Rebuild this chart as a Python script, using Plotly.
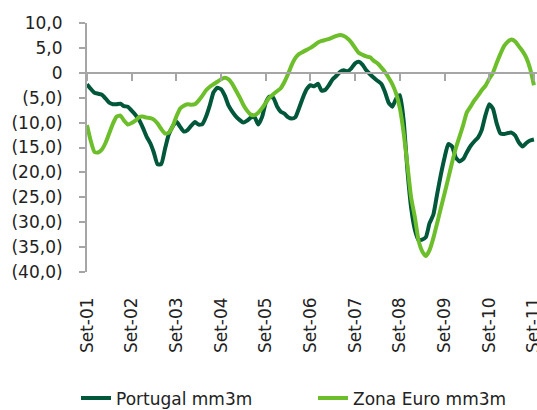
import pandas as pd
import plotly.graph_objects as go

# Monthly data, Sep-2001 .. Sep-2011
months = pd.date_range("2001-09-01", "2011-09-01", freq="MS")

portugal = [
    -2.3, -3.2, -4.0, -4.2, -4.4, -5.2, -6.0, -6.3, -6.3, -6.2, -6.7, -6.8,
    -7.6, -8.4, -9.5, -11.0, -12.8, -14.2, -16.0, -18.4, -18.3, -15.2, -12.4, -10.8,
    -9.8, -10.8, -11.8, -11.5, -10.6, -9.9, -10.4, -10.3, -8.8, -6.5, -3.9, -3.0,
    -3.3, -4.6, -6.6, -7.8, -8.8, -9.5, -10.0, -9.6, -9.0, -8.9, -10.4, -8.9,
    -6.0, -4.8, -5.0, -6.7, -7.8, -8.2, -8.9, -9.2, -8.9, -7.0, -5.0, -3.3,
    -2.5, -2.7, -2.2, -3.6, -3.4, -2.4, -1.3, -0.6, 0.2, 0.5, 0.3, 0.9,
    1.9, 2.2, 1.6, 0.5, -0.3, -1.0, -1.6, -2.2, -3.8, -6.0, -6.8, -5.2,
    -4.5, -9.5, -19.5, -27.0, -31.5, -33.6, -33.5, -33.0, -30.2, -28.5, -24.5, -20.5,
    -17.0, -14.3, -14.8, -17.0, -17.8, -17.3, -16.0, -14.7, -13.8, -13.0, -11.5, -8.5,
    -6.3, -7.2, -10.2, -12.2, -12.3, -12.1, -12.0, -12.6, -14.0, -14.8, -14.1, -13.6,
    -13.4,
]

zona_euro = [
    -10.5, -13.6, -15.9, -16.0, -15.4, -14.0, -12.2, -10.2, -8.8, -8.6, -9.6, -10.4,
    -10.1, -9.6, -8.9, -8.8, -9.0, -9.1, -9.4, -10.2, -11.3, -12.2, -12.0, -10.8,
    -8.8, -7.2, -6.6, -6.3, -6.4, -6.3, -5.6, -4.6, -3.5, -2.8, -2.3, -1.8,
    -1.3, -1.0, -1.3, -2.2, -3.6, -5.0, -6.4, -7.6, -8.4, -8.5, -8.0, -7.1,
    -6.0, -5.0, -4.3, -3.7, -3.1, -1.8, -0.3, 1.6, 3.0, 3.8, 4.2, 4.6,
    5.0, 5.5, 6.1, 6.4, 6.6, 6.8, 7.1, 7.4, 7.6, 7.4, 6.9, 6.1,
    5.0, 4.0, 3.6, 3.3, 3.1, 2.4, 1.9, 1.1, 0.2, -1.0, -2.3, -4.2,
    -7.2, -12.0, -18.5, -25.0, -29.0, -33.8, -35.8, -36.8, -35.6, -33.2, -30.3, -27.2,
    -24.2, -21.2, -18.0, -15.2, -12.8, -10.4, -8.0, -6.8, -5.6, -4.6, -3.5, -2.6,
    -1.2, 0.0, 2.0, 3.8, 5.4, 6.3, 6.7, 6.3, 5.3, 4.3, 3.0, 0.8,
    -2.5,
]

x_tick_dates = pd.date_range("2001-09-01", "2011-09-01", freq="12MS")
x_tick_labels = ["Set-01", "Set-02", "Set-03", "Set-04", "Set-05", "Set-06",
                 "Set-07", "Set-08", "Set-09", "Set-10", "Set-11"]

y_tick_vals = [10, 5, 0, -5, -10, -15, -20, -25, -30, -35, -40]
y_tick_labels = ["10,0", "5,0", "0", "(5,0)", "(10,0)", "(15,0)", "(20,0)",
                 "(25,0)", "(30,0)", "(35,0)", "(40,0)"]

DARK = "#00573A"
LIGHT = "#6DBE2B"
GREY = "#A6A6A6"
FONT = dict(family="DejaVu Sans", size=17, color="#222222")
x_range = ["2001-09-01", "2011-09-26"]

fig = go.Figure()
fig.add_trace(go.Scatter(x=months, y=portugal, mode="lines", name="Portugal mm3m",
                         legend="legend",
                         line=dict(color=DARK, width=4, shape="spline", smoothing=0.5)))
fig.add_trace(go.Scatter(x=months, y=zona_euro, mode="lines", name="Zona Euro mm3m",
                         legend="legend2",
                         line=dict(color=LIGHT, width=4, shape="spline", smoothing=0.5)))
# invisible carrier trace for the label axis
fig.add_trace(go.Scatter(x=months, y=portugal, xaxis="x2", mode="lines",
                         line=dict(width=0), opacity=0, showlegend=False,
                         hoverinfo="skip"))

legend_common = dict(orientation="h", xref="container", yref="container",
                     y=0.028, xanchor="left", yanchor="middle",
                     font=FONT, bgcolor="rgba(0,0,0,0)")

fig.update_layout(
    width=537, height=410,
    margin=dict(l=87, r=0, t=23, b=138, autoexpand=False),
    paper_bgcolor="white", plot_bgcolor="white",
    font=FONT,
    showlegend=True,
    legend=dict(x=76 / 537, **legend_common),
    legend2=dict(x=313 / 537, **legend_common),
    xaxis=dict(type="date", range=x_range, anchor="free", position=0.8,
               automargin=False,
               showgrid=False, zeroline=False, showline=True, linecolor=GREY,
               linewidth=2, ticks="outside", ticklen=7, tickwidth=2,
               tickcolor=GREY, tickvals=x_tick_dates, showticklabels=False),
    xaxis2=dict(type="date", range=x_range, overlaying="x", anchor="y",
                side="bottom", automargin=False, showgrid=False, zeroline=False,
                showline=False, ticks="", tickvals=x_tick_dates,
                ticktext=x_tick_labels, tickangle=-90, ticklabelstandoff=21,
                ticklabeloverflow="allow", tickfont=FONT),
    yaxis=dict(range=[-40, 10], automargin=False, showgrid=False,
               zeroline=False, showline=True, linecolor=GREY, linewidth=2,
               ticks="outside", ticklen=6, tickwidth=2, tickcolor=GREY,
               tickvals=y_tick_vals, ticktext=y_tick_labels,
               ticklabelstandoff=13, tickfont=FONT),
)

fig.write_html("out.html",
               config={"displayModeBar": False},
               post_script="document.body.style.margin='0';"
                           "document.body.style.overflow='hidden';")
